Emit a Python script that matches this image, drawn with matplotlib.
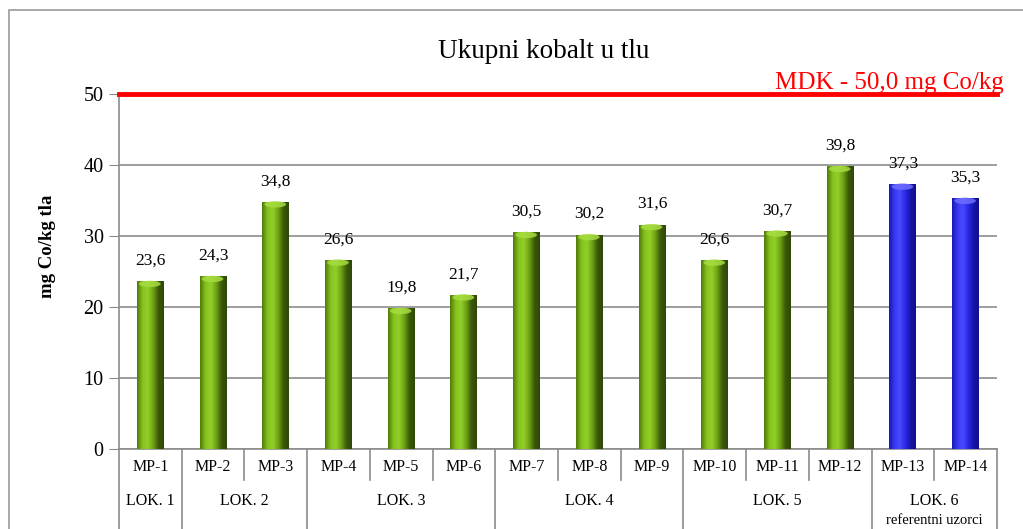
import numpy as np
import matplotlib.pyplot as plt
from matplotlib.colors import LinearSegmentedColormap
from matplotlib.patches import Rectangle, Ellipse

plt.rcParams["font.family"] = ["Liberation Serif", "DejaVu Serif"]

sites = ["MP-1", "MP-2", "MP-3", "MP-4", "MP-5", "MP-6", "MP-7",
         "MP-8", "MP-9", "MP-10", "MP-11", "MP-12", "MP-13", "MP-14"]
cobalt = [23.6, 24.3, 34.8, 26.6, 19.8, 21.7, 30.5,
          30.2, 31.6, 26.6, 30.7, 39.8, 37.3, 35.3]
locations = ["LOK. 1", "LOK. 2", "LOK. 3", "LOK. 4", "LOK. 5", "LOK. 6\nreferentni uzorci"]
loc_sizes = [1, 2, 3, 3, 3, 2]
reference_sites = ["MP-13", "MP-14"]
mdk = 50.0
mdk_label = "MDK - 50,0 mg Co/kg"

green_cmap = LinearSegmentedColormap.from_list(
    "cyl_green", ["#4f7a0c", "#86c21c", "#93cf2a", "#6fa514", "#3b5a0a", "#2f4708"])
blue_cmap = LinearSegmentedColormap.from_list(
    "cyl_blue", ["#1818b8", "#3838f0", "#4a4aff", "#2a2ae8", "#1616a8", "#10108a"])

fig = plt.figure(figsize=(10.23, 5.29), dpi=100)
ax = fig.add_axes([119 / 1023, 1 - 449 / 529, (997 - 119) / 1023, (449 - 94) / 529])

# outer frame of the chart area
fig.patches.append(Rectangle((9 / 1023, -0.05), 1.2, 1 - 10 / 529 + 0.05,
                             transform=fig.transFigure, fill=False,
                             edgecolor="#999999", lw=1.2))

x = np.arange(len(sites))
width = 0.43
bars = ax.bar(x, cobalt, width, color="none", edgecolor="none", zorder=3)

# cylinder-like shading: horizontal gradient clipped to each bar
grad = np.linspace(0, 1, 64).reshape(1, -1)
for site, rect, val in zip(sites, bars, cobalt):
    cmap = blue_cmap if site in reference_sites else green_cmap
    x0 = rect.get_x()
    im = ax.imshow(grad, cmap=cmap, aspect="auto", extent=[x0, x0 + width, 0, val],
                   zorder=3, interpolation="bicubic")
    im.set_clip_path(rect)
    cap = "#a6dc40" if cmap is green_cmap else "#6e6eff"
    ax.add_patch(Ellipse((x0 + width * 0.48, val - 0.35), width * 0.8, 0.9,
                         facecolor=cap, edgecolor="none", zorder=4, alpha=0.85))
    ax.annotate(f"{val:.1f}".replace(".", ","), (rect.get_x() + width / 2, val),
                xytext=(0, 9), textcoords="offset points", ha="center", va="bottom",
                fontsize=12.5, zorder=5)

ax.set_xlim(-0.5, len(sites) - 0.5)
ax.set_ylim(0, 50)
ax.set_yticks(range(0, 51, 10))
ax.tick_params(axis="y", labelsize=14.5, length=7, color="#888888", pad=4)
ax.tick_params(axis="x", length=0, labelbottom=False)
ax.yaxis.grid(True, color="#8c8c8c", lw=1.2, zorder=0)
for side in ["top", "right"]:
    ax.spines[side].set_visible(False)
for side in ["left", "bottom"]:
    ax.spines[side].set_color("#8c8c8c")
    ax.spines[side].set_linewidth(1.2)

# MDK limit
ax.axhline(mdk, color="#ff0000", lw=3.5, zorder=6, clip_on=False)
fig.text(1004 / 1023, 1 - 89 / 529, mdk_label, color="#ff0000", fontsize=18,
         ha="right", va="baseline")

# two-row category table below the axis
trans = ax.get_xaxis_transform()
for i, name in enumerate(sites):
    ax.text(i, -0.051, name, transform=trans, ha="center", va="center", fontsize=11.5)
bounds = np.cumsum([0] + loc_sizes) - 0.5
for b in np.arange(-0.5, len(sites)):
    bottom = -0.23 if np.isclose(bounds, b).any() else -0.087
    ax.plot([b, b], [0, bottom], transform=trans, color="#8c8c8c", lw=1.2, clip_on=False)
for name, lo, hi in zip(locations, bounds[:-1], bounds[1:]):
    lines = name.split("\n")
    ax.text((lo + hi) / 2, -0.146, lines[0], transform=trans, ha="center", va="center",
            fontsize=11.5)
    if len(lines) > 1:
        ax.text((lo + hi) / 2, -0.2, lines[1], transform=trans, ha="center", va="center",
                fontsize=10.5)

fig.text(544 / 1023, 1 - 52 / 529, "Ukupni kobalt u tlu", ha="center", va="center",
         fontsize=19.5)
fig.text(47 / 1023, 1 - 246 / 529, "mg Co/kg tla", rotation=90, ha="center", va="center",
         fontsize=13.5, fontweight="bold")

fig.savefig("out.png", dpi=100)
